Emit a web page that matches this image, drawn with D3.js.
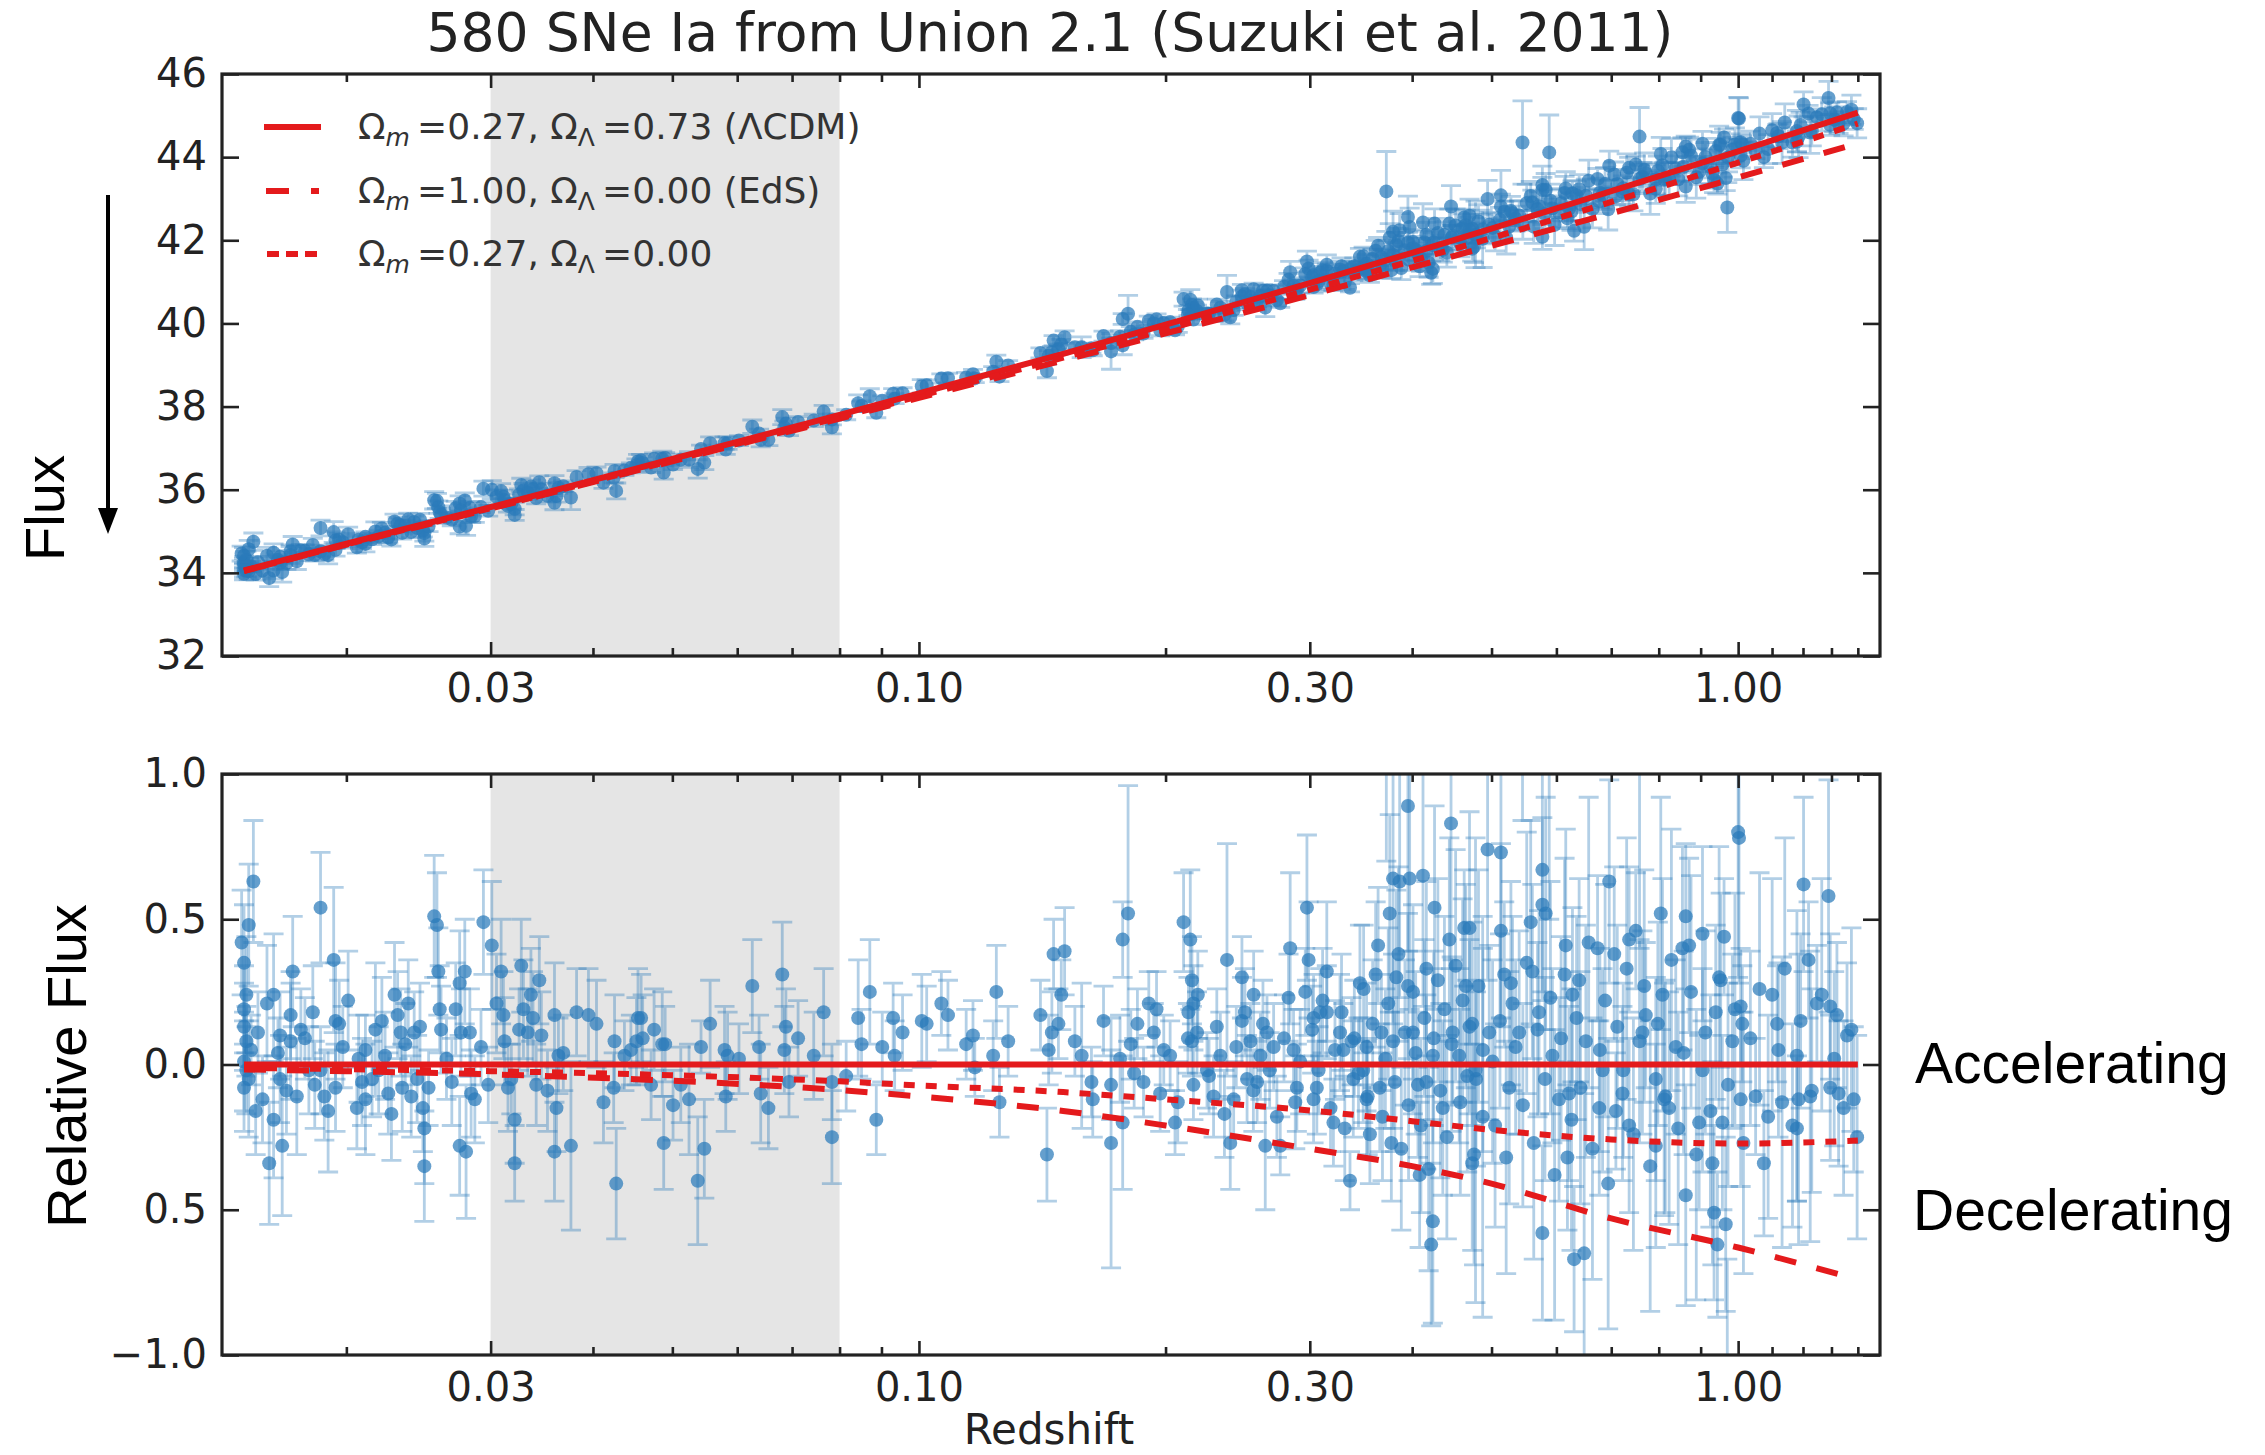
<!DOCTYPE html>
<html>
<head>
<meta charset="utf-8">
<script src="https://cdn.jsdelivr.net/npm/d3@7"></script>
<style>
  body { margin: 0; background: #fff; }
  svg { display: block; }
</style>
</head>
<body>
<div id="chart"></div>
<script>
// ---- SNe Ia: redshift, residual vs LCDM (mag), 1-sigma error ----
const snZ = [
  // z < 0.046
  0.0154,0.0152,0.0150,0.0150,0.0150,0.0151,0.0153,0.0150,0.0155,0.0151,
  0.0150,0.0152,0.0163,0.0166,0.0161,0.0163,0.0167,0.0166,0.0172,0.0171,
  0.0174,0.0171,0.0176,0.0180,0.0183,0.0186,0.0193,0.0194,0.0190,0.0194,
  0.0196,0.0186,0.0207,0.0209,0.0211,0.0211,0.0206,0.0217,0.0223,0.0219,
  0.0229,0.0231,0.0233,0.0234,0.0225,0.0238,0.0242,0.0244,0.0249,0.0249,
  0.0240,0.0248,0.0256,0.0258,0.0260,0.0261,0.0259,0.0269,0.0275,0.0276,
  0.0279,0.0275,0.0280,0.0284,0.0283,0.0294,0.0301,0.0298,0.0309,0.0311,
  0.0312,0.0315,0.0321,0.0321,0.0327,0.0329,0.0333,0.0338,0.0341,0.0346,
  0.0344,0.0359,0.0361,0.0359,0.0376,0.0363,0.0395,0.0404,0.0425,0.0427,
  0.0424,0.0437,0.0454,0.0452,
  // 0.046 - 0.15
  0.0458,0.0460,0.0471,0.0486,0.0490,0.0488,0.0501,0.0524,0.0537,0.0547,
  0.0542,0.0579,0.0581,0.0584,0.0626,0.0638,0.0641,0.0681,0.0688,0.0685,
  0.0694,0.0744,0.0783,0.0783,0.0843,0.0851,0.0871,0.0887,0.0930,0.0934,
  0.1008,0.1022,0.1065,0.1085,0.1142,0.1164,0.1170,0.1243,0.1232,0.1254,
  0.1285,0.1407,0.1460,0.1433,0.1440,0.1453,0.1480,
  // 0.15 - 0.48
  0.1492,0.1506,0.1580,0.1624,0.1716,0.1716,0.1773,0.1800,0.1773,0.1814,
  0.1831,0.1848,0.1908,0.1935,0.1970,0.2026,0.2054,0.2104,0.2144,0.2154,
  0.2163,0.2154,0.2163,0.2185,0.2133,0.2289,0.2377,0.2399,0.2422,0.2479,
  0.2479,0.2539,0.2562,0.2587,0.2611,0.2660,0.2647,0.2735,0.2761,0.2839,
  0.2826,0.2866,0.2893,0.2962,0.2976,0.2990,0.3032,0.3075,0.3089,0.3147,
  0.3147,0.3206,0.3297,0.3359,0.3374,0.3454,0.3486,0.3519,0.3552,0.3635,
  0.3669,0.3756,0.3791,0.3773,0.3826,0.3862,0.3953,0.3953,0.3972,0.4066,
  0.4085,0.4124,0.4163,0.4220,0.4240,0.4260,0.4240,0.4462,0.4441,0.4483,
  0.4630,0.4651,0.4780,0.4736,0.2515,0.2710,0.2920,0.3032,0.3266,0.3390,
  0.3519,0.3652,0.3791,0.4009,0.4163,0.4360,0.4566,0.4736,0.2333,0.2247,
  // 0.47 - 1.4
  0.4945,0.5134,0.5134,0.5182,0.4700,0.4877,0.4968,0.5582,0.5608,0.5768,
  0.5768,0.5822,0.5768,0.6160,0.6189,0.6306,0.6487,0.6218,0.6277,0.6736,
  0.6961,0.7059,0.6768,0.7092,0.7361,0.7500,0.7713,0.8046,0.8084,0.8122,
  0.8631,0.8551,0.8713,0.9047,0.8631,0.8962,0.9302,0.9346,0.9434,0.9657,
  0.9522,0.9612,0.9567,1.0025,1.0072,1.0072,1.0119,1.0504,1.0751,1.1004,
  1.1158,1.1315,1.1797,1.1797,1.1852,1.2019,1.2189,1.2246,1.2478,1.2893,
  1.2954,1.2954,1.3201,1.3263,1.3581,1.3840,1.3972,0.4787,0.5015,0.5255,
  0.5404,0.5933,0.6045,0.6518,0.6832,0.7225,0.7641,0.7934,0.8237,0.8392,
  0.9047,0.9839,0.5304,0.5714,0.6396,0.7361,0.7934,0.9390,
  // outliers beyond the residual panel
  0.372,0.5455,0.588,0.758,0.970,1.000,
  // denser fill, 0.3 - 0.5
  0.302,0.306,0.311,0.318,0.322,0.328,0.331,0.340,0.344,0.349,
  0.353,0.358,0.361,0.368,0.371,0.374,0.381,0.385,0.388,0.392,
  0.396,0.401,0.404,0.410,0.414,0.419,0.425,0.430,0.433,0.438,
  0.441,0.447,0.452,0.458,0.461,0.467,0.470,0.476,0.482,0.488,
  // denser fill, 0.5 - 1.4
  0.505,0.512,0.521,0.528,0.535,0.546,0.552,0.563,0.569,0.581,
  0.590,0.597,0.608,0.614,0.626,0.635,0.642,0.657,0.664,0.678,
  0.688,0.694,0.712,0.724,0.731,0.745,0.758,0.768,0.781,0.798,
  0.815,0.829,0.845,0.858,0.876,0.889,0.912,0.925,0.948,0.972,
  0.991,1.015,1.035,1.062,1.088,1.120,1.140,1.165,1.192,1.230,
  1.265,1.310,1.345,1.375,
  // denser fill, 0.15 - 0.3
  0.155,0.163,0.168,0.176,0.188,0.195,0.199,0.207,0.213,0.219,
  0.226,0.231,0.236,0.244,0.250,0.256,0.263,0.268,0.279,0.288,
  // denser fill, z < 0.1
  0.0149,0.0151,0.0156,0.0158,0.0160,0.0165,0.0169,0.0178,0.0182,0.0188,
  0.0198,0.0201,0.0215,0.0221,0.0227,0.0236,0.0246,0.0252,0.0265,0.0272,
  0.0287,0.0292,0.0305,0.0318,0.0325,0.0336,0.0352,0.0368,0.0382,0.0412,
  0.0445,0.0475,0.0512,0.0556,0.0603,0.0655,0.0712,0.0765,0.0815,0.0902,
  0.0955
];

const snRes = [
  0.63,0.48,0.35,0.19,0.13,0.08,0.05,-0.08,-0.16,0.24,
  0.01,-0.05,0.24,0.10,-0.34,-0.19,-0.28,-0.05,0.32,0.08,
  -0.11,0.17,0.12,-0.02,-0.07,0.54,0.36,0.15,-0.16,-0.08,
  0.14,-0.02,0.02,-0.06,0.05,-0.12,-0.15,0.12,0.03,-0.02,
  0.24,0.17,0.11,-0.08,-0.10,0.21,0.11,-0.05,-0.22,-0.35,
  -0.11,-0.15,0.51,0.48,0.19,0.12,0.32,-0.06,0.28,0.11,
  0.32,-0.28,-0.30,-0.10,0.11,0.49,0.41,-0.07,0.32,0.17,
  0.08,-0.08,-0.34,-0.19,0.34,0.19,0.11,0.16,-0.07,0.10,
  0.29,0.17,-0.15,-0.30,-0.28,0.03,0.17,0.14,0.08,-0.41,
  -0.08,0.03,0.16,0.08,

  0.16,0.09,-0.07,0.07,0.07,-0.27,-0.14,-0.12,-0.40,-0.29,
  0.06,0.05,-0.11,0.03,0.27,0.06,-0.10,0.31,0.13,0.05,
  -0.06,0.03,-0.25,-0.06,0.16,0.07,0.25,-0.19,0.16,0.03,
  0.15,0.14,0.21,0.17,0.07,0.10,-0.01,0.25,0.03,-0.13,
  0.08,0.17,0.38,-0.31,0.05,0.11,0.14,

  0.24,0.39,0.03,-0.06,-0.27,-0.07,0.43,0.52,-0.20,0.07,
  -0.03,0.14,0.21,0.11,-0.10,0.03,-0.20,0.49,0.43,0.29,
  0.21,0.08,-0.07,0.11,0.18,-0.11,0.36,-0.27,-0.12,0.30,
  0.15,0.08,0.24,-0.06,0.03,0.11,-0.28,-0.18,-0.28,0.40,
  0.23,0.05,-0.08,0.25,0.54,0.36,0.16,-0.02,0.18,0.32,
  0.18,-0.20,0.05,-0.40,0.08,0.28,-0.02,-0.12,-0.24,0.41,
  0.11,0.52,0.64,-0.27,0.30,0.63,0.89,0.27,0.64,-0.07,
  -0.38,0.65,0.33,-0.62,-0.54,0.54,0.03,0.83,0.43,0.11,
  0.47,0.27,-0.02,-0.34,-0.05,0.06,0.01,-0.12,0.11,-0.05,
  0.06,-0.08,0.08,0.11,-0.06,-0.15,0.03,0.14,0.03,-0.02,

  0.74,0.73,0.46,0.31,0.47,-0.18,0.11,0.49,0.32,0.67,
  0.55,0.52,-0.58,0.41,-0.32,-0.67,-0.65,-0.10,0.24,0.40,
  0.63,0.38,-0.15,-0.16,0.43,0.46,0.17,0.52,0.24,-0.12,
  0.51,0.40,0.41,0.45,-0.45,-0.20,-0.34,-0.51,-0.62,-0.55,
  0.29,0.44,-0.20,0.78,0.20,-0.12,0.14,-0.11,-0.34,0.24,
  0.14,-0.13,0.03,-0.22,-0.12,0.62,0.36,-0.11,0.21,0.58,
  0.20,-0.08,0.17,-0.10,0.10,-0.12,-0.25,-0.05,0.01,-0.08,
  0.11,0.03,-0.12,0.08,-0.02,-0.10,0.11,-0.05,-0.15,0.06,
  -0.02,0.08,0.21,0.18,0.29,-0.21,-0.28,0.18,

  1.66,1.84,1.40,1.10,-1.27,0.80,

  0.12,-0.08,0.22,-0.15,0.05,0.18,-0.22,0.09,-0.03,0.26,
  -0.11,0.14,0.31,-0.18,0.02,0.21,-0.06,0.38,-0.29,0.11,
  -0.14,0.25,0.04,-0.21,0.16,-0.36,0.09,0.29,-0.09,0.19,
  -0.25,0.07,0.34,-0.13,0.22,-0.04,0.13,-0.31,0.27,0.05,

  -0.21,0.15,-0.32,0.28,0.06,-0.14,0.35,-0.27,0.12,-0.05,
  0.23,-0.38,0.09,0.31,-0.19,0.16,-0.08,0.42,-0.29,0.05,
  0.22,-0.41,0.13,-0.02,0.33,-0.24,0.08,0.27,-0.35,0.14,
  -0.11,0.36,-0.22,0.04,0.25,-0.31,0.11,-0.16,0.30,-0.07,
  0.19,-0.27,0.09,0.26,-0.18,0.05,0.33,-0.21,0.15,-0.09,
  0.24,0.02,-0.15,0.12,

  0.08,-0.12,0.15,0.02,-0.06,0.19,0.05,-0.13,0.09,0.24,
  -0.04,0.13,-0.17,0.06,0.18,-0.09,0.14,-0.02,0.09,-0.13,

  0.42,-0.02,0.11,-0.12,0.21,0.04,-0.09,0.09,0.18,-0.11,
  0.06,0.22,-0.05,0.15,-0.17,0.07,0.13,-0.08,0.02,0.19,
  -0.12,0.06,0.21,-0.05,0.12,0.24,-0.09,0.04,0.18,-0.13,
  0.05,0.12,-0.07,0.14,0.02,-0.15,0.09,0.18,-0.04,0.06,
  0.11
];

const snErr = [
  0.21,0.21,0.20,0.15,0.15,0.12,0.12,0.15,0.15,0.20,
  0.17,0.20,0.21,0.15,0.21,0.20,0.24,0.15,0.19,0.20,
  0.20,0.15,0.14,0.15,0.15,0.19,0.25,0.20,0.21,0.15,
  0.15,0.15,0.15,0.15,0.12,0.19,0.14,0.23,0.15,0.15,
  0.18,0.15,0.15,0.15,0.14,0.15,0.14,0.15,0.19,0.19,
  0.14,0.15,0.21,0.18,0.15,0.15,0.15,0.15,0.18,0.15,
  0.18,0.17,0.23,0.15,0.15,0.18,0.22,0.13,0.18,0.15,
  0.15,0.15,0.13,0.15,0.16,0.17,0.15,0.16,0.14,0.15,
  0.15,0.18,0.15,0.17,0.29,0.13,0.16,0.15,0.16,0.19,
  0.12,0.12,0.17,0.15,

  0.15,0.15,0.12,0.18,0.13,0.16,0.12,0.19,0.22,0.17,
  0.09,0.15,0.12,0.15,0.16,0.11,0.17,0.18,0.13,0.15,
  0.12,0.15,0.16,0.13,0.20,0.12,0.18,0.12,0.12,0.12,
  0.16,0.13,0.11,0.12,0.12,0.12,0.10,0.16,0.12,0.12,
  0.12,0.12,0.12,0.16,0.12,0.14,0.12,

  0.12,0.15,0.25,0.12,0.43,0.12,0.13,0.44,0.23,0.12,
  0.12,0.12,0.11,0.10,0.13,0.12,0.11,0.17,0.24,0.15,
  0.13,0.12,0.12,0.14,0.12,0.14,0.40,0.16,0.13,0.14,
  0.15,0.13,0.15,0.14,0.15,0.13,0.22,0.14,0.10,0.26,
  0.15,0.14,0.15,0.15,0.25,0.20,0.15,0.15,0.15,0.24,
  0.16,0.15,0.16,0.10,0.15,0.20,0.18,0.20,0.17,0.20,
  0.20,0.34,0.50,0.20,0.30,0.40,0.50,0.25,0.45,0.25,
  0.25,0.45,0.30,0.28,0.35,0.35,0.30,0.50,0.35,0.25,
  0.20,0.35,0.80,0.30,0.15,0.15,0.18,0.15,0.20,0.20,
  0.22,0.22,0.30,0.28,0.30,0.30,0.30,0.35,0.15,0.13,

  0.45,0.60,0.30,0.25,0.40,0.69,0.30,0.35,0.30,0.45,
  0.30,0.40,0.30,0.40,0.25,0.25,0.55,0.30,0.30,0.25,
  0.35,0.30,0.30,0.20,0.25,0.20,0.25,0.40,0.40,0.40,
  0.25,0.35,0.30,0.30,0.38,0.30,0.35,0.30,0.25,0.30,
  0.30,0.20,0.30,0.50,0.20,0.30,0.20,0.20,0.25,0.40,
  0.20,0.50,0.50,0.25,0.50,0.30,0.20,0.50,0.20,0.40,
  0.25,0.25,0.25,0.25,0.25,0.25,0.35,0.30,0.35,0.40,
  0.35,0.30,0.35,0.40,0.35,0.30,0.35,0.35,0.40,0.30,
  0.35,0.30,0.30,0.35,0.35,0.30,0.35,0.30,

  0.96,1.00,0.90,0.70,0.60,0.50,

  0.15,0.16,0.18,0.15,0.17,0.20,0.18,0.20,0.19,0.22,
  0.20,0.22,0.25,0.22,0.24,0.26,0.24,0.30,0.28,0.25,
  0.26,0.30,0.28,0.30,0.27,0.35,0.30,0.35,0.30,0.32,
  0.35,0.30,0.40,0.32,0.35,0.33,0.30,0.38,0.40,0.35,

  0.35,0.30,0.40,0.35,0.30,0.35,0.45,0.40,0.30,0.35,
  0.40,0.50,0.35,0.40,0.45,0.35,0.40,0.50,0.45,0.35,
  0.40,0.50,0.35,0.30,0.45,0.40,0.35,0.40,0.50,0.35,
  0.40,0.45,0.40,0.35,0.40,0.50,0.35,0.40,0.45,0.35,
  0.40,0.45,0.30,0.40,0.35,0.30,0.45,0.35,0.30,0.35,
  0.40,0.30,0.30,0.35,

  0.12,0.13,0.12,0.15,0.12,0.13,0.12,0.14,0.12,0.15,
  0.13,0.13,0.15,0.14,0.15,0.14,0.15,0.13,0.15,0.16,

  0.18,0.15,0.14,0.15,0.20,0.12,0.15,0.14,0.16,0.15,
  0.14,0.17,0.13,0.15,0.16,0.14,0.15,0.13,0.14,0.16,
  0.15,0.13,0.17,0.12,0.14,0.16,0.14,0.13,0.15,0.14,
  0.12,0.14,0.13,0.15,0.12,0.14,0.13,0.15,0.12,0.12,
  0.13
];

// ---- model curves ----
const modelZ   = [0.015, 0.02, 0.03, 0.05, 0.08, 0.1, 0.15, 0.2, 0.3, 0.4, 0.5, 0.7, 1.0, 1.4];
const muLCDM   = [34.06, 34.70, 35.58, 36.74, 37.80, 38.32, 39.27, 39.97, 40.97, 41.70, 42.28, 43.18, 44.14, 45.07];
const relLCDM  = [0, 0, 0, 0, 0, 0, 0, 0, 0, 0, 0, 0, 0, 0];
const relEdS   = [-0.017, -0.023, -0.034, -0.056, -0.088, -0.11, -0.16, -0.21, -0.29, -0.35, -0.41, -0.53, -0.63, -0.74];
const relOpen  = [-0.012, -0.016, -0.023, -0.037, -0.058, -0.072, -0.095, -0.12, -0.158, -0.195, -0.225, -0.258, -0.272, -0.262];

const modelOm  = ["0.27", "1.00", "0.27"];
const modelOl  = ["0.73", "0.00", "0.00"];
const modelTag = [" (\u039BCDM)", " (EdS)", ""];

// ---- axes ----
const xMajor = [0.03, 0.1, 0.3, 1.0];
const xMajorLabels = ["0.03", "0.10", "0.30", "1.00"];
const xMinor = [0.02, 0.04, 0.05, 0.06, 0.07, 0.08, 0.09, 0.2, 0.4, 0.5, 0.6, 0.7, 0.8, 0.9, 1.1, 1.2, 1.3, 1.4];
const yTopTicks = [32, 34, 36, 38, 40, 42, 44, 46];
const yBotTicks = [-1, -0.5, 0, 0.5, 1];
const yBotLabels = ["\u22121.0", "0.5", "0.0", "0.5", "1.0"];
const shadeBand = [0.03, 0.08];


const W = 2265, H = 1455;
const plotL = 222, plotR = 1880;
const RED = "#e41a1c", BLUE = "#2a7aba", INK = "#222";
const tickFont = "'DejaVu Sans', sans-serif";
const helv = "'Helvetica Neue', Helvetica, 'Liberation Sans', Arial, sans-serif";

const svg = d3.select("#chart").append("svg")
    .attr("width", W)
    .attr("height", H);

svg.append("rect").attr("width", W).attr("height", H).attr("fill", "#fff");

const x = d3.scaleLog().domain([0.0141, 1.49]).range([plotL, plotR]);
const yTop = d3.scaleLinear().domain([32, 46]).range([656, 74]);
const yBot = d3.scaleLinear().domain([-1, 1]).range([1355, 774]);

// LCDM distance modulus along z, piecewise through the read nodes
const lcdmAt = d3.scaleLog().domain(modelZ).range(muLCDM);

const points = snZ.map((z, i) => ({ z: z, res: snRes[i], err: snErr[i], mu: lcdmAt(z) + snRes[i] }));

const models = [
    { rel: relLCDM, dash: null },
    { rel: relEdS,  dash: "22,21" },
    { rel: relOpen, dash: "11,11" }
];


function drawPanel(id, y, valueOf, lineValue, yTicks, yFormat) {
    const y0 = y.range()[1], y1 = y.range()[0];

    svg.append("clipPath").attr("id", id)
        .append("rect")
        .attr("x", plotL).attr("y", y0)
        .attr("width", plotR - plotL).attr("height", y1 - y0);

    const g = svg.append("g").attr("clip-path", `url(#${id})`);

    g.append("rect")
        .attr("x", x(shadeBand[0]))
        .attr("y", y0)
        .attr("width", x(shadeBand[1]) - x(shadeBand[0]))
        .attr("height", y1 - y0)
        .attr("fill", "#e5e5e5");

    // error bars with caps
    g.selectAll(".ebar")
        .data(points)
        .enter().append("path")
        .attr("class", "ebar")
        .attr("d", d => {
            const cx = x(d.z), v = valueOf(d);
            const a = y(v + d.err), b = y(v - d.err);
            return `M${cx - 10},${a}H${cx + 10}M${cx},${a}V${b}M${cx - 10},${b}H${cx + 10}`;
        })
        .attr("fill", "none")
        .attr("stroke", BLUE)
        .attr("stroke-opacity", 0.36)
        .attr("stroke-width", 2.8);

    g.selectAll(".dot")
        .data(points)
        .enter().append("circle")
        .attr("class", "dot")
        .attr("cx", d => x(d.z))
        .attr("cy", d => y(valueOf(d)))
        .attr("r", 7)
        .attr("fill", BLUE)
        .attr("fill-opacity", 0.72);

    models.forEach(m => {
        const line = d3.line()
            .x((z, i) => x(z))
            .y((z, i) => y(lineValue(i, m.rel)))
            .curve(d3.curveMonotoneX);
        g.append("path")
            .datum(modelZ)
            .attr("d", line)
            .attr("fill", "none")
            .attr("stroke", RED)
            .attr("stroke-width", 6)
            .attr("stroke-dasharray", m.dash);
    });

    // frame
    svg.append("rect")
        .attr("x", plotL).attr("y", y0)
        .attr("width", plotR - plotL).attr("height", y1 - y0)
        .attr("fill", "none")
        .attr("stroke", INK)
        .attr("stroke-width", 3.2);

    const styleAxis = sel => {
        sel.select(".domain").remove();
        sel.selectAll(".tick line").attr("stroke", INK).attr("stroke-width", 2.6);
        sel.selectAll(".tick text").attr("fill", INK);
        sel.attr("font-family", tickFont).attr("font-size", 40);
    };

    svg.append("g").attr("transform", `translate(0,${y1})`)
        .call(d3.axisBottom(x).tickValues(xMajor)
            .tickFormat(d => xMajorLabels[xMajor.indexOf(d)])
            .tickSize(-14).tickPadding(18))
        .call(styleAxis);
    svg.append("g").attr("transform", `translate(0,${y1})`)
        .call(d3.axisBottom(x).tickValues(xMinor).tickFormat("").tickSize(-8))
        .call(styleAxis);
    svg.append("g").attr("transform", `translate(0,${y0})`)
        .call(d3.axisTop(x).tickValues(xMajor).tickFormat("").tickSize(-14))
        .call(styleAxis);
    svg.append("g").attr("transform", `translate(0,${y0})`)
        .call(d3.axisTop(x).tickValues(xMinor).tickFormat("").tickSize(-8))
        .call(styleAxis);

    svg.append("g").attr("transform", `translate(${plotL},0)`)
        .call(d3.axisLeft(y).tickValues(yTicks).tickFormat(yFormat)
            .tickSize(-17).tickPadding(15))
        .call(styleAxis);
    svg.append("g").attr("transform", `translate(${plotR},0)`)
        .call(d3.axisRight(y).tickValues(yTicks).tickFormat("").tickSize(-17))
        .call(styleAxis);
}

drawPanel("clipTop", yTop, d => d.mu, (i, rel) => muLCDM[i] + rel[i], yTopTicks, d => String(d));
drawPanel("clipBot", yBot, d => d.res, (i, rel) => rel[i], yBotTicks, d => yBotLabels[yBotTicks.indexOf(d)]);


// title
svg.append("text")
    .attr("x", 1050)
    .attr("y", 51)
    .attr("text-anchor", "middle")
    .attr("font-family", tickFont)
    .attr("font-size", 53.5)
    .attr("fill", INK)
    .text("580 SNe Ia from Union 2.1 (Suzuki et al. 2011)");

// legend
const legendY = [127, 191, 254];
const legendSample = [
    { x1: 264, x2: 321, dash: null },
    { x1: 266, x2: 319, dash: "23,22" },
    { x1: 267, x2: 319, dash: "12,7" }
];
legendY.forEach((ly, i) => {
    svg.append("line")
        .attr("x1", legendSample[i].x1).attr("x2", legendSample[i].x2)
        .attr("y1", ly).attr("y2", ly)
        .attr("stroke", RED)
        .attr("stroke-width", 6)
        .attr("stroke-dasharray", legendSample[i].dash);

    const t = svg.append("text")
        .attr("x", 358)
        .attr("y", ly + 12)
        .attr("font-family", tickFont)
        .attr("font-size", 36)
        .attr("fill", "#333");
    t.append("tspan").text("\u03A9");
    t.append("tspan").attr("font-size", 25).attr("font-style", "italic").attr("dy", 7).text("m");
    t.append("tspan").attr("dy", -7).text("\u2009=" + modelOm[i] + ", \u03A9");
    t.append("tspan").attr("font-size", 25).attr("dy", 7).text("\u039B");
    t.append("tspan").attr("dy", -7).text("\u2009=" + modelOl[i] + modelTag[i]);
});

// side labels
svg.append("text")
    .attr("transform", "translate(64,508) rotate(-90)")
    .attr("text-anchor", "middle")
    .attr("font-family", helv)
    .attr("font-size", 56)
    .attr("fill", "#000")
    .text("Flux");

svg.append("line")
    .attr("x1", 108).attr("x2", 108)
    .attr("y1", 195).attr("y2", 512)
    .attr("stroke", "#000")
    .attr("stroke-width", 4);
svg.append("path")
    .attr("d", "M98,508L118,508L108,534Z")
    .attr("fill", "#000");

svg.append("text")
    .attr("transform", "translate(86,1066) rotate(-90)")
    .attr("text-anchor", "middle")
    .attr("font-family", helv)
    .attr("font-size", 56)
    .attr("fill", "#000")
    .text("Relative Flux");

svg.append("text")
    .attr("x", 1915).attr("y", 1083)
    .attr("font-family", helv)
    .attr("font-size", 57)
    .attr("fill", "#000")
    .text("Accelerating");

svg.append("text")
    .attr("x", 1913).attr("y", 1230)
    .attr("font-family", helv)
    .attr("font-size", 57)
    .attr("fill", "#000")
    .text("Decelerating");

svg.append("text")
    .attr("x", 1049).attr("y", 1444)
    .attr("text-anchor", "middle")
    .attr("font-family", tickFont)
    .attr("font-size", 42)
    .attr("fill", INK)
    .text("Redshift");
</script>
</body>
</html>
